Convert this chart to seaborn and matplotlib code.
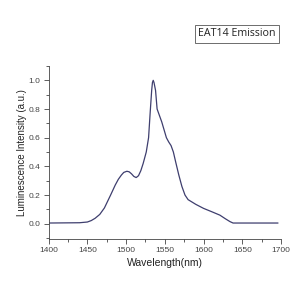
import numpy as np
import pandas as pd
import matplotlib
matplotlib.use("Agg")
import matplotlib.pyplot as plt
import seaborn as sns
from matplotlib.ticker import AutoMinorLocator

# emission spectrum
wavelength = [1400, 1440, 1450, 1455, 1460, 1466, 1472, 1480, 1486, 1490,
              1494, 1497, 1501, 1504, 1507, 1510, 1513, 1516, 1519, 1522,
              1526, 1529, 1531, 1533, 1534, 1535, 1536, 1538, 1540, 1543,
              1546, 1549, 1552, 1555, 1558, 1561, 1564, 1568, 1572, 1576,
              1580, 1590, 1600, 1610, 1621, 1628, 1634, 1638, 1660, 1696]
intensity = [0.005, 0.007, 0.012, 0.022, 0.038, 0.065, 0.11, 0.2, 0.27, 0.31,
             0.34, 0.358, 0.366, 0.362, 0.348, 0.33, 0.322, 0.335, 0.37, 0.42,
             0.5, 0.6, 0.77, 0.93, 0.985, 1.0, 0.985, 0.93, 0.80, 0.755,
             0.71, 0.655, 0.6, 0.57, 0.545, 0.5, 0.43, 0.34, 0.26, 0.2,
             0.168, 0.135, 0.107, 0.085, 0.06, 0.035, 0.015, 0.005, 0.005, 0.005]
x_ticks = [1400, 1450, 1500, 1550, 1600, 1650, 1700]
y_ticks = [0.0, 0.2, 0.4, 0.6, 0.8, 1.0]

df = pd.DataFrame({"Wavelength": wavelength, "Intensity": intensity})

sns.set_style("ticks")
plt.rcParams["font.family"] = ["Liberation Sans", "DejaVu Sans"]

fig = plt.figure(figsize=(3, 3), dpi=100)
ax = fig.add_axes([0.162, 0.204, 0.775, 0.576])
sns.lineplot(data=df, x="Wavelength", y="Intensity", ax=ax,
             color="#3e3e6e", linewidth=0.9)

ax.set_xlim(1400, 1700)
ax.set_ylim(-0.105, 1.1)
ax.set_xticks(x_ticks)
ax.set_yticks(y_ticks)
ax.set_yticklabels([f"{v:.1f}" for v in y_ticks])
ax.xaxis.set_minor_locator(AutoMinorLocator(2))
ax.yaxis.set_minor_locator(AutoMinorLocator(2))
ax.tick_params(which="major", length=3.5, width=0.6, labelsize=6, colors="#444444",
               direction="out", pad=2.5)
ax.tick_params(which="minor", length=2, width=0.6, colors="#444444", direction="out")
for side in ["left", "bottom"]:
    ax.spines[side].set_linewidth(0.6)
    ax.spines[side].set_color("#444444")
sns.despine(ax=ax)

ax.set_xlabel("Wavelength(nm)", fontsize=7.5, color="#222222", labelpad=3)
ax.set_ylabel("Luminescence Intensity (a.u.)", fontsize=7, color="#222222", labelpad=1)

fig.text(0.79, 0.887, "EAT14 Emission", fontsize=7.7, family="Open Sans", ha="center", va="center",
         color="#222222",
         bbox=dict(boxstyle="square,pad=0.32", fc="white", ec="#555555", lw=0.6))

fig.savefig("out.png", dpi=100)
